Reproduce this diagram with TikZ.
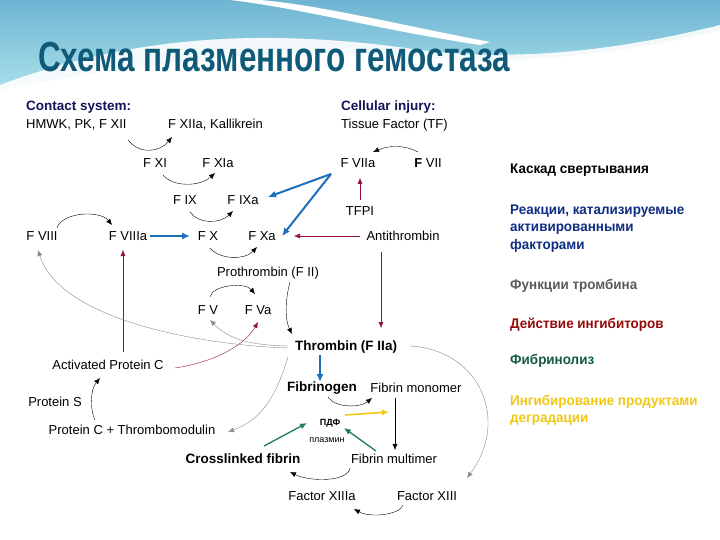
\documentclass[tikz,border=0pt]{standalone}
\usepackage{fontspec}
\setmainfont{Liberation Sans}
\usetikzlibrary{arrows.meta}
\newcommand{\lgfont}{\fontsize{14}{19.5}\selectfont\bfseries}
\definecolor{navy}{RGB}{20,20,90}
\definecolor{ttl}{RGB}{14,90,120}
\definecolor{bl}{RGB}{30,110,190}
\definecolor{rd}{RGB}{150,20,50}
\definecolor{gr}{RGB}{140,140,140}
\definecolor{gn}{RGB}{30,120,100}
\definecolor{yl}{RGB}{240,200,20}
\definecolor{lgbl}{RGB}{15,45,130}
\definecolor{lgrd}{RGB}{150,10,10}
\definecolor{lggn}{RGB}{20,90,70}
\definecolor{lggr}{RGB}{90,90,90}
\tikzset{
 t/.style={inner sep=1pt, font=\fontsize{13}{14}\selectfont},
 tb/.style={t, font=\fontsize{13.5}{14}\selectfont\bfseries},
 hd/.style={t, anchor=west, text=navy, font=\fontsize{13.5}{14}\selectfont\bfseries},
 lg/.style={anchor=west, inner sep=0pt, align=left},
 ar/.style={-{Latex[length=6pt,width=5pt]}, thin},
 ga/.style={ar, gr},
 ra/.style={ar, rd, thin},
 ba/.style={-{Latex[length=8pt,width=7pt]}, bl, line width=2pt},
}
\begin{document}
\begin{tikzpicture}[x=1pt,y=-1pt]
\useasboundingbox (0,0) rectangle (720,540);
\fill[white] (0,0) rectangle (720,540);
% header waves
\shade[top color={rgb,255:red,110;green,180;blue,210}, bottom color={rgb,255:red,170;green,225;blue,235}]
 (0,0) -- (720,0) -- (720,30) .. controls (620,55) and (520,65) .. (420,58) .. controls (300,45) and (150,60) .. (0,90) -- cycle;
\fill[white,opacity=0.9] (0,85) .. controls (120,40) and (250,25) .. (420,50) .. controls (520,62) and (620,50) .. (720,25) -- (720,40) .. controls (620,62) and (520,78) .. (420,66) .. controls (250,45) and (120,65) .. (0,95) -- cycle;
\fill[white] (230,0) .. controls (300,8) and (380,30) .. (480,45) -- (490,42) .. controls (400,25) and (320,5) .. (260,0) -- cycle;
\node[anchor=west, text=ttl, inner sep=0pt] (title) at (38,57) {\scalebox{0.75}[1]{\fontsize{42}{44}\selectfont\bfseries Схема плазменного гемостаза}};
% nodes
\node[hd] (cs) at (25,107) {Contact system:};
\node[t,anchor=west] (hm) at (25,125) {HMWK, PK, F XII};
\node[t,anchor=west] (xiia) at (167,125) {F XIIa, Kallikrein};
\node[hd] (ci) at (340,107) {Cellular injury:};
\node[t,anchor=west] (tf) at (340,125) {Tissue Factor (TF)};
\node[t] (xi) at (155,163) {F XI};
\node[t] (xia) at (218,163) {F XIa};
\node[t] (viia) at (358,163) {F VIIa};
\node[t] (vii) at (428,163) {\textbf{F} VII};
\node[t] (ix) at (185,200) {F IX};
\node[t] (ixa) at (243,200) {F IXa};
\node[t] (tfpi) at (360,211) {TFPI};
\node[t] (viii) at (42,236) {F VIII};
\node[t] (viiia) at (128,236) {F VIIIa};
\node[t] (x) at (208,236) {F X};
\node[t] (xa) at (262,236) {F Xa};
\node[t] (at) at (403,236) {Antithrombin};
\node[t] (pt) at (268,273) {Prothrombin (F II)};
\node[t] (v) at (208,310) {F V};
\node[t] (va) at (258,310) {F Va};
\node[tb] (th) at (346,347) {Thrombin (F IIa)};
\node[t] (apc) at (108,365) {Activated Protein C};
\node[tb] (fg) at (322,388) {Fibrinogen};
\node[t] (fm) at (416,388) {Fibrin monomer};
\node[t] (ps) at (55,402) {Protein S};
\node[t, font=\fontsize{9}{10}\selectfont\bfseries] (pdf) at (330,423) {ПДФ};
\node[t, font=\fontsize{9}{10}\selectfont] (pl) at (327,440) {плазмин};
\node[t] (pctm) at (132,430) {Protein C + Thrombomodulin};
\node[tb] (cf) at (243,459) {Crosslinked fibrin};
\node[t] (fmm) at (394,459) {Fibrin multimer};
\node[t] (f13a) at (322,496) {Factor XIIIa};
\node[t] (f13) at (427,496) {Factor XIII};
% legend
\node[lg] (l1) at (510,170) {\scalebox{0.96}[1]{\lgfont Каскад свертывания}};
\node[lg, text=lgbl] (l2) at (510,228) {\scalebox{0.96}[1]{\lgfont\begin{tabular}{@{}l@{}}Реакции, катализируемые\\[-2pt]активированными\\[-2pt]факторами\end{tabular}}};
\node[lg, text=lggr] (l3) at (510,286) {\scalebox{0.96}[1]{\lgfont Функции тромбина}};
\node[lg, text=lgrd] (l4) at (510,325) {\scalebox{0.96}[1]{\lgfont Действие ингибиторов}};
\node[lg, text=lggn] (l5) at (510,361) {\scalebox{0.96}[1]{\lgfont Фибринолиз}};
\node[lg, text=yl] (l6) at (510,410) {\scalebox{0.96}[1]{\lgfont\begin{tabular}{@{}l@{}}Ингибирование продуктами\\[-2pt]деградации\end{tabular}}};
% coordinates
\coordinate (c1) at (128,140); \coordinate (c2) at (172,137);
\coordinate (a1) at (163,175); \coordinate (a2) at (215,173);
\coordinate (b1) at (190,212); \coordinate (b2) at (233,211);
\coordinate (d1) at (57,228);  \coordinate (d2) at (112,225);
\coordinate (e1) at (210,248); \coordinate (e2) at (257,247);
\coordinate (f1) at (418,152); \coordinate (f2) at (373,152);
\coordinate (g1) at (290,282); \coordinate (g2) at (292,334);
\coordinate (h1) at (210,297); \coordinate (h2) at (255,294);
\coordinate (i1) at (95,420);  \coordinate (i2) at (100,378);
\coordinate (j1) at (328,397); \coordinate (j2) at (372,398);
\coordinate (k1) at (395,398); \coordinate (k2) at (395,450);
\coordinate (m1) at (350,468); \coordinate (m2) at (290,472);
\coordinate (n1) at (403,505); \coordinate (n2) at (354,509);
\coordinate (vo) at (331,174);
\coordinate (ixe) at (268,197); \coordinate (xae) at (282,236);
\coordinate (viiie) at (150,236); \coordinate (xw) at (190,236);
\coordinate (tb1) at (320,355); \coordinate (tb2) at (320,382);
\coordinate (tp1) at (360,200); \coordinate (tp2) at (360,178);
\coordinate (at1) at (360,236); \coordinate (at2) at (294,236);
\coordinate (as1) at (381,252); \coordinate (as2) at (381,328);
\coordinate (ap1) at (175,368); \coordinate (ap2) at (258,322);
\coordinate (ap3) at (123,352); \coordinate (ap4) at (123,250);
\coordinate (t1) at (288,348); \coordinate (t2) at (38,250);
\coordinate (t3) at (288,346); \coordinate (t4) at (210,320);
\coordinate (t5) at (288,357); \coordinate (t6) at (228,432);
\coordinate (t7) at (410,346); \coordinate (t8) at (467,478);
\coordinate (y1) at (345,415); \coordinate (y2) at (389,412);
\coordinate (q1) at (264,446); \coordinate (q2) at (307,423);
\coordinate (r1) at (376,451); \coordinate (r2) at (344,428);
% black cascade arrows
\draw[ar] (c1) .. controls (140,155) and (160,152) .. (c2);
\draw[ar] (a1) .. controls (172,187) and (200,187) .. (a2);
\draw[ar] (b1) .. controls (198,224) and (220,224) .. (b2);
\draw[ar] (d1) .. controls (62,212) and (100,210) .. (d2);
\draw[ar] (e1) .. controls (220,260) and (245,260) .. (e2);
\draw[ar] (f1) .. controls (405,145) and (390,145) .. (f2);
\draw[ar] (g1) .. controls (285,300) and (285,320) .. (g2);
\draw[ar] (h1) .. controls (212,285) and (245,282) .. (h2);
\draw[ar] (i1) .. controls (90,410) and (90,390) .. (i2);
\draw[ar] (j1) .. controls (335,408) and (360,408) .. (j2);
\draw[ar] (k1) -- (k2);
\draw[ar] (m1) .. controls (348,482) and (310,482) .. (m2);
\draw[ar] (n1) .. controls (400,515) and (370,518) .. (n2);
% blue
\draw[ba] (vo) -- (ixe);
\draw[ba] (vo) -- (xae);
\draw[ba] (viiie) -- (xw);
\draw[ba] (tb1) -- (tb2);
% red inhibitors
\draw[ra] (tp1) -- (tp2);
\draw[ra] (at1) -- (at2);
\draw[ra] (as1) -- (as2);
\draw[ra] (ap1) .. controls (215,362) and (245,345) .. (ap2);
\draw[ra] (ap3) -- (ap4);
% gray thrombin functions
\draw[ga] (t1) .. controls (200,345) and (60,320) .. (t2);
\draw[ga] (t3) .. controls (250,345) and (230,340) .. (t4);
\draw[ga] (t5) .. controls (275,400) and (260,420) .. (t6);
\draw[ga] (t7) .. controls (480,350) and (510,420) .. (t8);
% fibrinolysis
\draw[-{Latex[length=7pt,width=6pt]}, gn, line width=1.3pt] (q1) -- (q2);
\draw[-{Latex[length=7pt,width=6pt]}, gn, line width=1.3pt] (r1) -- (r2);
\draw[-{Latex[length=7pt,width=6pt]}, yl, line width=1.6pt] (y1) -- (y2);
\end{tikzpicture}
\end{document}
